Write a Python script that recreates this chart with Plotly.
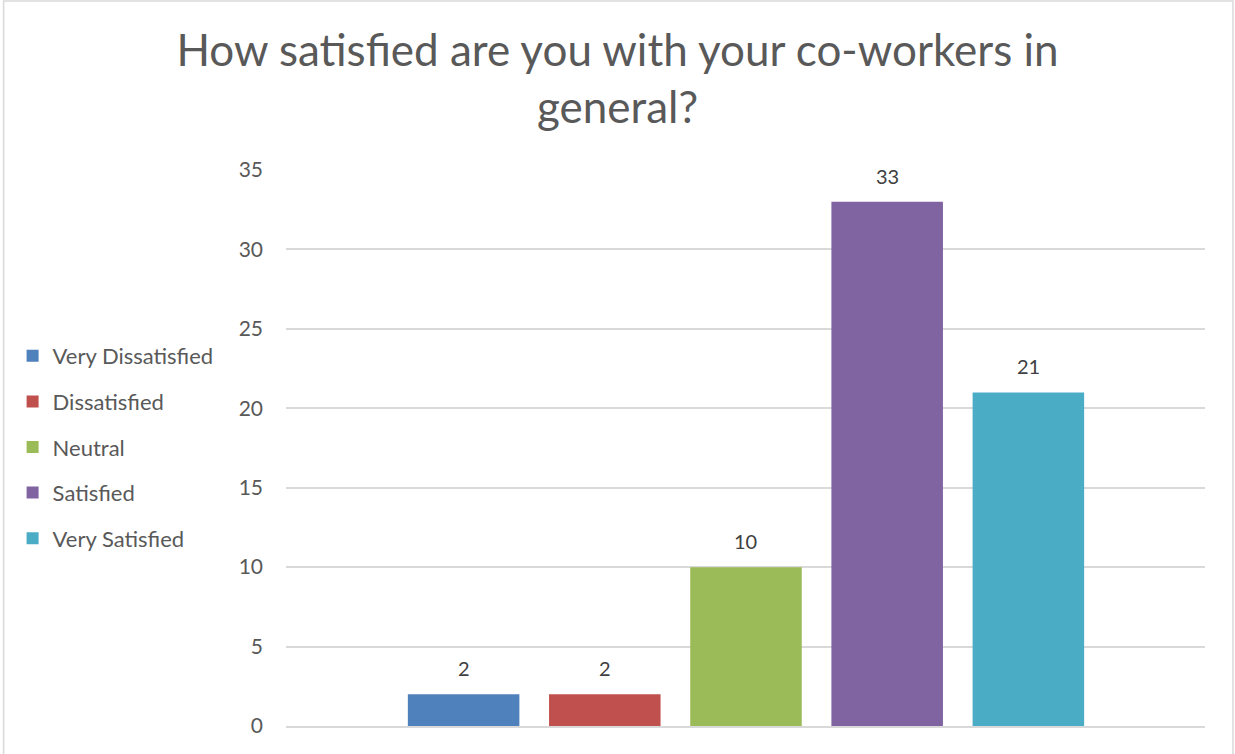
import plotly.graph_objects as go

categories = ["Very Dissatisfied", "Dissatisfied", "Neutral", "Satisfied", "Very Satisfied"]
values = [2, 2, 10, 33, 21]
colors = ["#4F81BD", "#C0504D", "#9BBB59", "#8064A2", "#4BACC6"]
title_text = "How satisfied are you with your co-workers in<br>general?"
y_ticks = [0, 5, 10, 15, 20, 25, 30, 35]

FONT = "Lato"
W, H = 1235, 754
L, R, T, B = 284, 30, 170, 28
pw, ph = W - L - R, H - T - B

fig = go.Figure()
for i, (c, v, col) in enumerate(zip(categories, values, colors)):
    fig.add_trace(go.Bar(
        x=[c], y=[v], name=c, marker=dict(color=col, line=dict(width=0)),
        legendgroup=f"g{i}", width=0.79, hoverinfo="skip",
    ))
    fig.add_annotation(x=c, y=v, text=str(v), showarrow=False, yanchor="bottom",
                       yshift=12, font=dict(family=FONT, size=20, color="#404040"))

fig.update_layout(
    width=W, height=H,
    margin=dict(l=L, r=R, t=T, b=B),
    paper_bgcolor="white", plot_bgcolor="white",
    barmode="overlay",
    title=dict(text=title_text, x=0.5, xref="container", xanchor="center",
               y=1 - 66 / H, yref="container", yanchor="middle",
               font=dict(family=FONT, size=44, color="#595959")),
    font=dict(family=FONT, color="#595959"),
    legend=dict(x=(10 - L) / pw, xanchor="left", y=(H - B - 447) / ph, yanchor="middle",
                font=dict(family=FONT, size=22, color="#595959"),
                traceorder="grouped", tracegroupgap=14, itemwidth=30,
                bgcolor="rgba(0,0,0,0)"),
    xaxis=dict(type="category", categoryorder="array", categoryarray=categories,
               range=[-1.258, 5.251], showticklabels=False, showgrid=False,
               showline=True, linecolor="#d9d9d9", linewidth=1.5, zeroline=False,
               ticks=""),
    yaxis=dict(range=[0, 35], tickvals=y_ticks, showgrid=True, gridcolor="#d9d9d9",
               gridwidth=1.5, zeroline=False, showline=False, ticks="",
               ticklabelstandoff=22,
               tickfont=dict(family=FONT, size=21, color="#595959")),
    showlegend=True,
)

fig.add_shape(type="rect", xref="paper", yref="paper",
              x0=(1 - L) / pw, x1=(W - 2 - L) / pw,
              y0=(-B - 5) / ph, y1=(H - B - 1) / ph,
              line=dict(color="#d9d9d9", width=1.5), fillcolor="rgba(0,0,0,0)", layer="below")

fig.write_html("out.html", config={"displayModeBar": False},
               post_script="document.body.style.margin='0';")
